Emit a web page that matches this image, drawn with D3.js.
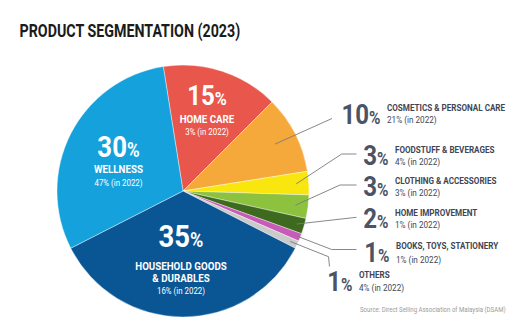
<!DOCTYPE html>
<html><head><meta charset="utf-8">
<script src="https://cdn.jsdelivr.net/npm/d3@7"></script>
<style>
html,body{margin:0;padding:0;background:#fff;}
svg{display:block;font-family:Roboto,"Liberation Sans",sans-serif;}
</style></head>
<body>
<svg id="chart" width="522" height="325"></svg>
<script>
// ---------- data ----------
const categories = ["HOME CARE","COSMETICS & PERSONAL CARE","FOODSTUFF & BEVERAGES","CLOTHING & ACCESSORIES","HOME IMPROVEMENT","BOOKS, TOYS, STATIONERY","OTHERS","HOUSEHOLD GOODS & DURABLES","WELLNESS"];
const share2023 = [15,10,3,3,2,1,1,35,30];
const share2022 = [3,21,4,3,1,1,4,16,47];
const colors = ["#E9564B","#F6A93B","#F8E60E","#8DC23F","#3D6A1F","#C65BB8","#CACACA","#0A5593","#15A1DC"];
const titleText = "PRODUCT SEGMENTATION (2023)";
const sourceText = "Source: Direct Selling Association of Malaysia (DSAM)";

// ---------- layout ----------
const cx = 183, cy = 191, R = 126;
const startDeg = -9;
const svg = d3.select("#chart");
const SX = 0.88; // condensed look
const darkText = "#3E4655", bigNum = "#4B5364";

function ctext(x, y, anchor, size, weight, fill, str, sx) {
  return svg.append("text")
    .attr("transform", `translate(${x},${y}) scale(${sx||SX},1)`)
    .attr("text-anchor", anchor).attr("font-size", size)
    .attr("font-weight", weight).attr("fill", fill).text(str);
}
function pctText(x, y, anchor, numSize, pctSize, fill, value) {
  const t = svg.append("text")
    .attr("transform", `translate(${x},${y}) scale(0.86,1)`)
    .attr("text-anchor", anchor).attr("font-weight", 700).attr("fill", fill);
  t.append("tspan").attr("font-size", numSize).text(value);
  t.append("tspan").attr("font-size", pctSize).text("%");
  return t;
}

// title
ctext(19.5, 37.3, "start", 17.5, 700, "#1b1b1b", titleText, 0.815);

// pie
const pie = d3.pie().sort(null).value(d => d)
  .startAngle(startDeg * Math.PI / 180)
  .endAngle((startDeg + 360) * Math.PI / 180);
const arcs = pie(share2023);
const arc = d3.arc().innerRadius(0).outerRadius(R);
const g = svg.append("g").attr("transform", `translate(${cx},${cy})`);
g.selectAll("path").data(arcs).join("path")
  .attr("d", arc).attr("fill", (d, i) => colors[i])
  .attr("stroke", "#fff").attr("stroke-width", 0.4);

// inside labels
const inside = [
  {i: 0, x: 207, y: 105, num: 28, pct: 19, lines: ["HOME CARE"], lineY: [123.3], subY: 134.5},
  {i: 8, x: 118.5, y: 156.5, num: 30, pct: 20, lines: ["WELLNESS"], lineY: [173.3], subY: 185.5},
  {i: 7, x: 181, y: 246.5, num: 32, pct: 21, lines: ["HOUSEHOLD GOODS", "& DURABLES"], lineY: [270, 282.3], subY: 293.5}
];
inside.forEach(L => {
  pctText(L.x, L.y, "middle", L.num, L.pct, "#fff", share2023[L.i]);
  L.lines.forEach((s, k) => ctext(L.x, L.lineY[k], "middle", 10.6, 700, "#fff", s, 0.92));
  ctext(L.x, L.subY, "middle", 8.6, 400, "#fff", share2022[L.i] + "% (in 2022)", 0.92);
});

// outside labels
const outside = [
  {i: 1, tx: 387, ty: 110.7, sy: 123.3, ny: 123.5, r: 0.82, path: "straight", ex: 332, ey: 118.5},
  {i: 2, tx: 395, ty: 152.7, sy: 164.5, ny: 165, r: 0.9, path: "elbow", bx: 341.7, ex: 356.5, ey: 154},
  {i: 3, tx: 395, ty: 183.5, sy: 196, ny: 196, r: 0.9, path: "elbow", bx: 340, ex: 356.5, ey: 185},
  {i: 4, tx: 395, ty: 215.7, sy: 227.5, ny: 227.5, r: 0.94, path: "straight", ex: 356.5, ey: 217.3},
  {i: 5, tx: 396, ty: 249.3, sy: 262.7, ny: 262, r: 0.98, path: "elbow", bx: 331.7, ex: 356.5, ey: 249.5},
  {i: 6, tx: 359, ty: 277.7, sy: 290.7, ny: 290.5, r: 0.94, path: "down", bx: 328.5, by: 256.7, ex: 329.5, ey: 266.5}
];
outside.forEach(L => {
  const a = arcs[L.i];
  const mid = (a.startAngle + a.endAngle) / 2;
  const sx = cx + Math.sin(mid) * R * L.r, sy = cy - Math.cos(mid) * R * L.r;
  let pts;
  if (L.path === "straight") pts = [[sx, sy], [L.ex, L.ey]];
  else if (L.path === "elbow") pts = [[sx, sy], [L.bx, L.ey], [L.ex, L.ey]];
  else pts = [[sx, sy], [L.bx, L.by], [L.ex, L.ey]];
  svg.append("path").attr("d", d3.line()(pts))
    .attr("fill", "none").attr("stroke", "#7a7a7a").attr("stroke-width", 0.9);
  pctText(L.tx - 6.5, L.ny, "end", 28, 18, bigNum, share2023[L.i]);
  ctext(L.tx, L.ty, "start", 9.2, 700, darkText, categories[L.i]);
  ctext(L.tx, L.sy, "start", 8.6, 400, darkText, share2022[L.i] + "% (in 2022)", 0.95);
});

// source
ctext(360, 311.5, "start", 6.6, 400, "#9a9a9a", sourceText, 0.92);
</script>
</body></html>
